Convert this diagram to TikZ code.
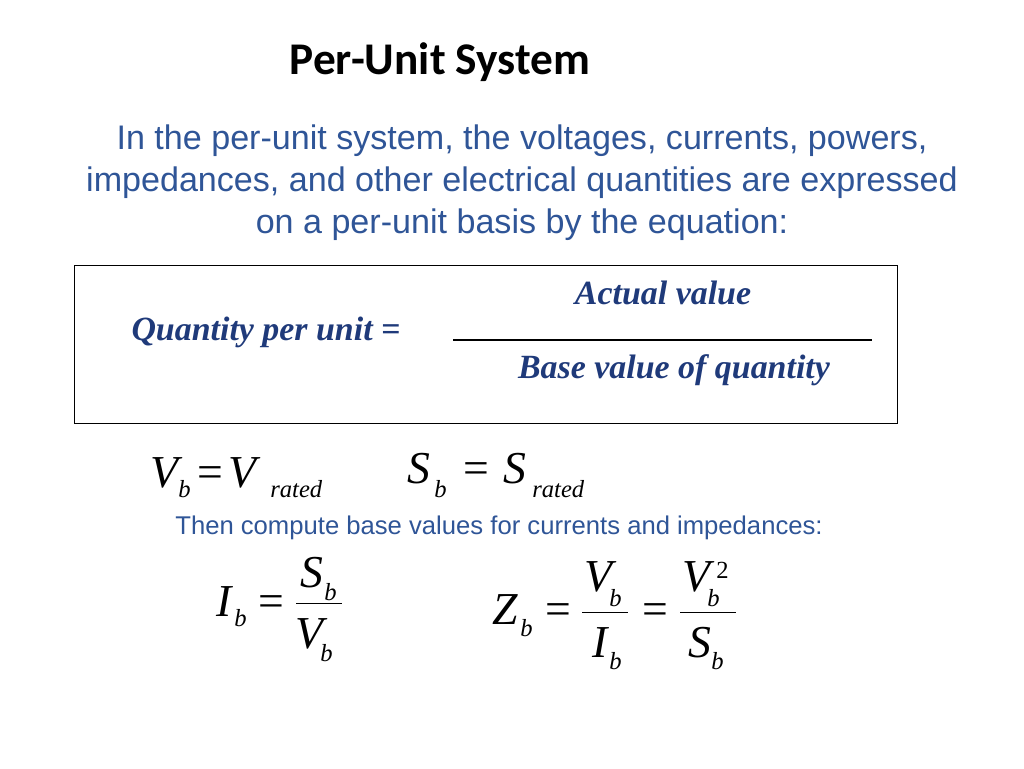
\documentclass[tikz,border=0pt]{standalone}
\usepackage{fontspec}
\setmainfont{Liberation Serif}
\newfontfamily\titlefont{Carlito}
\newfontfamily\bodyfont{Liberation Sans}
\usetikzlibrary{positioning}
\definecolor{bluetext}{HTML}{2F5597}
\definecolor{boxblue}{HTML}{1F3A7A}
\tikzset{
  body/.style = {font=\bodyfont\fontsize{19.4}{24}\selectfont, text=bluetext, align=center},
  eq/.style = {font=\fontsize{26}{28}\selectfont\itshape, inner sep=0pt, anchor=base west},
  sb/.style = {font=\fontsize{14}{16}\selectfont\itshape, inner sep=0pt, anchor=base west},
  rel/.style = {font=\fontsize{26}{28}\selectfont, inner sep=0pt, anchor=base west},
  boxtext/.style = {font=\fontsize{19.3}{22}\selectfont\bfseries\itshape, text=boxblue}
}
\begin{document}
\begin{tikzpicture}[x=0.02cm, y=-0.02cm]
  \useasboundingbox (0,0) rectangle (1024,768);
  % heading and introduction
  \node[font=\titlefont\bfseries\fontsize{25.8}{28}\selectfont] (title) at (440,62) {Per-Unit System};
  \node[body] (intro) at (522,183) {In the per-unit system, the voltages, currents, powers,\\
    impedances, and other electrical quantities are expressed\\
    on a per-unit basis by the equation:};
  % definition box
  \draw (74,265) rectangle (897,423);
  \node[boxtext] (qty) at (266,332) {Quantity per unit =};
  \node[boxtext] (actual) at (663,293) {Actual value};
  \node[boxtext] (base) at (674,370) {Base value of quantity};
  \draw[line width=1pt] (453,340) -- (872,340);
  % rated bases
  \node[eq] (vb) at (150,487) {V};
  \node[sb] at (178,497) {b};
  \node[rel] at (197,487) {=};
  \node[eq] at (228,487) {V};
  \node[sb] at (270,497) {rated};
  \node[eq] (sbase) at (407,483) {S};
  \node[sb] at (434,497) {b};
  \node[rel] at (463,483) {=};
  \node[eq] at (503,483) {S};
  \node[sb] at (532,497) {rated};
  \node[body, font=\bodyfont\fontsize{14.6}{16}\selectfont] (then) at (499,528)
    {Then compute base values for currents and impedances:};
  % current base
  \node[eq] (ib) at (216,616) {I};
  \node[sb] at (234,626) {b};
  \node[rel] at (258,616) {=};
  \node[eq] at (300,587) {S};
  \node[sb] at (324,600) {b};
  \draw (296,603) -- (342,603);
  \node[eq] at (295,648) {V};
  \node[sb] at (320,661) {b};
  % impedance base
  \node[eq] (zb) at (492,624) {Z};
  \node[sb] at (520,636) {b};
  \node[rel] at (545,624) {=};
  \node[eq] at (584,591) {V};
  \node[sb] at (609,606) {b};
  \draw (582,612) -- (628,612);
  \node[eq] at (592,657) {I};
  \node[sb] at (609,669) {b};
  \node[rel] at (642,624) {=};
  \node[eq] at (682,591) {V};
  \node[sb] at (707,606) {b};
  \node[sb, font=\fontsize{14}{16}\selectfont] at (716,578) {2};
  \draw (680,612) -- (736,612);
  \node[eq] at (688,657) {S};
  \node[sb] at (711,669) {b};
\end{tikzpicture}
\end{document}
